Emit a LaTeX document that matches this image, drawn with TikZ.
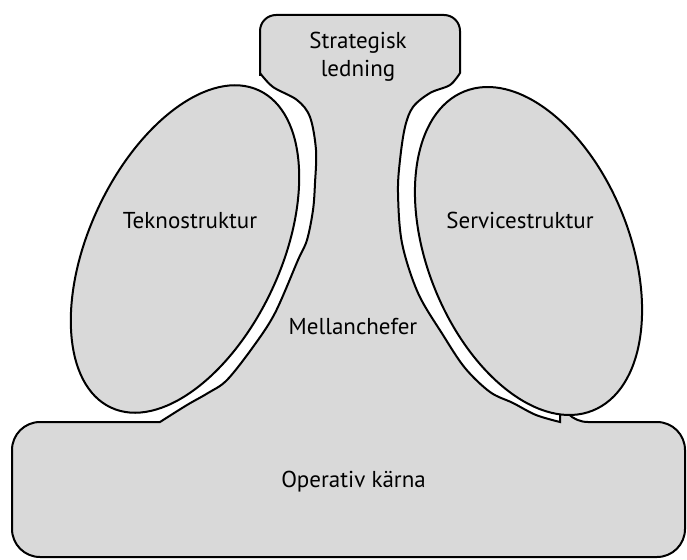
\documentclass[tikz,border=0pt]{standalone}
\usepackage{fontspec}
\setmainfont{PT Sans}

\begin{document}
\begin{tikzpicture}[x=1pt, y=-1pt,
  part/.style={fill=black!15, draw=black, line width=2pt},
  lbl/.style={font=\fontsize{23}{28}\selectfont, align=center}]
\useasboundingbox (0,0) rectangle (687,559);
% strategisk ledning, mellanchefer och operativ karna som en form
\draw[part] (160,422) [rounded corners=28pt] -- (12,422) -- (12,557) -- (685,557) -- (685,422) -- (560,422) [sharp corners]
  -- plot[smooth, tension=0.55] coordinates {(560,422) (536,415) (513,403) (490,392) (465,368) (443,335) (418,293) (402,243) (398,193) (400,160) (405,127) (413,107) (430,93) (450,85) (460,73)}
  -- (460,60) [rounded corners=16pt] -- (460,15) -- (260,15) -- (260,60) [sharp corners] -- (260,73)
  -- plot[smooth, tension=0.55] coordinates {(260,73) (273,87) (297,100) (310,117) (316,150) (315,183) (313,210) (307,240) (298,260) (275,313) (253,347) (227,380) (208,393) (187,405) (160,422)}
  -- cycle;
% stabsdelarna
\draw[part, rotate around={-25:(185,249)}] (185,249) ellipse [x radius=96, y radius=175];
\draw[part, rotate around={21.9:(528.5,251)}] (528.5,251) ellipse [x radius=101, y radius=172];
\node[lbl] (strat) at (358,57) {Strategisk\\ledning};
\node[lbl, anchor=base] (tekno) at (190,228) {Teknostruktur};
\node[lbl, anchor=base] (service) at (520,228) {Servicestruktur};
\node[lbl, anchor=base] (mellan) at (353,334) {Mellanchefer};
\node[lbl, anchor=base] (operativ) at (353.5,487) {Operativ kärna};
\end{tikzpicture}
\end{document}
